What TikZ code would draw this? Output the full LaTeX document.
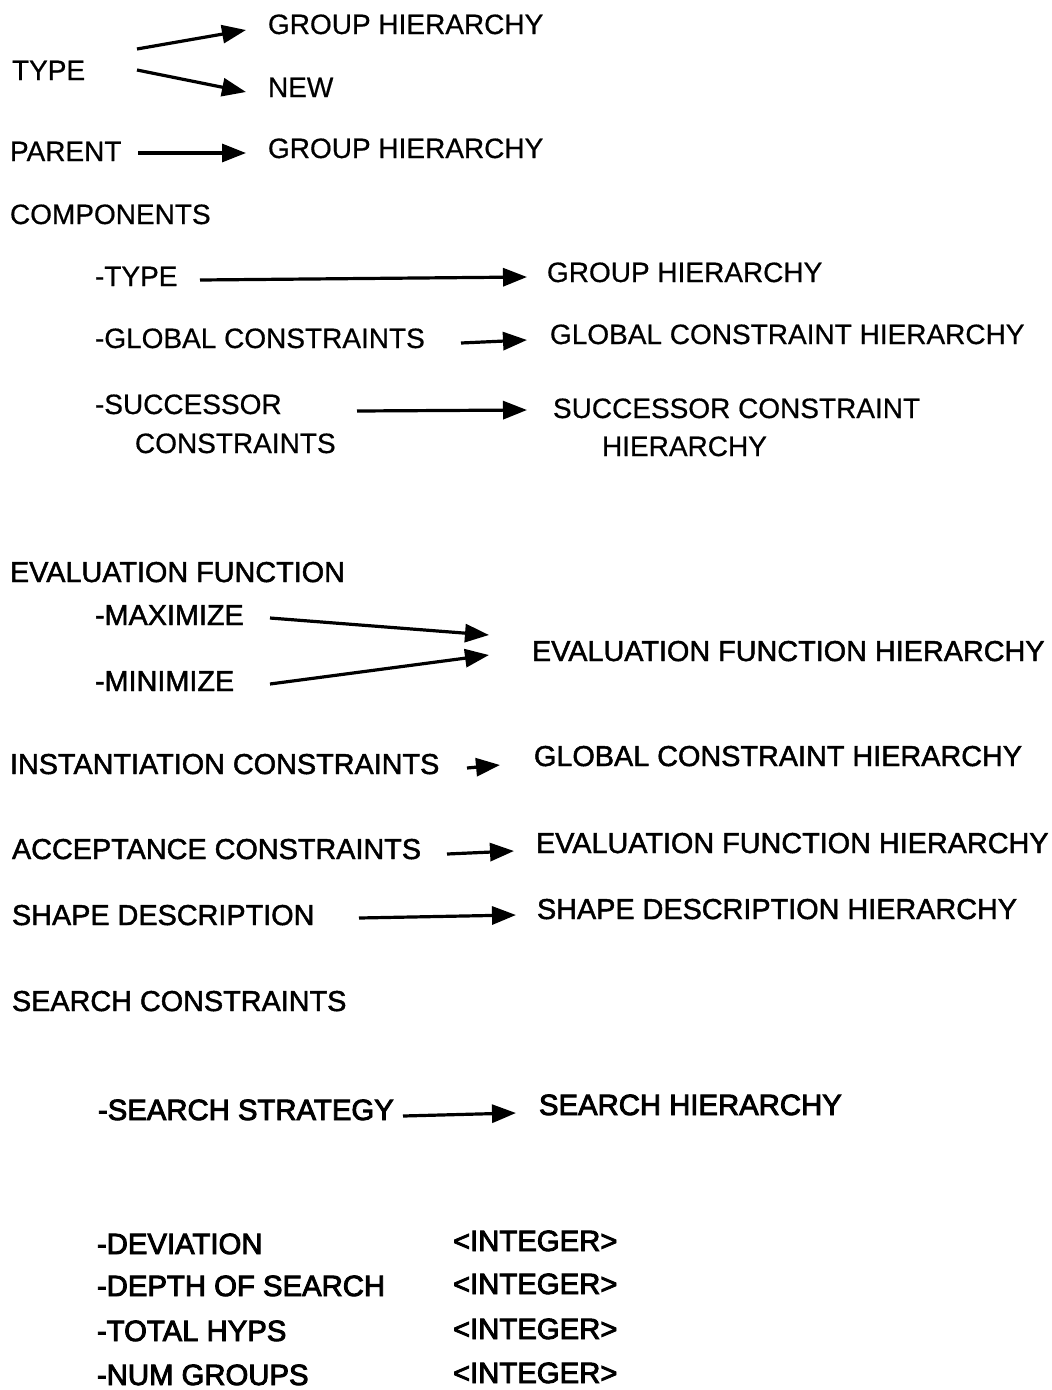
\documentclass[tikz,border=0pt]{standalone}
\usepackage{fontspec}
\setmainfont{Liberation Sans}
\usetikzlibrary{arrows.meta,calc}
\begin{document}
\begin{tikzpicture}[x=1pt,y=-1pt,
  lbl/.style={anchor=base west,inner sep=0pt,outer sep=0pt,
    text height=20pt,text depth=0pt,font=\fontsize{28}{32}\selectfont\addfontfeature{FakeBold=0.6}},
  mid/.style={lbl,font=\fontsize{28.8}{32}\selectfont\addfontfeature{FakeBold=1.6}},
  heavy/.style={lbl,font=\fontsize{29.3}{32}\selectfont\addfontfeature{FakeBold=3}},
  arr/.style={line width=3.2pt,-{Triangle[length=24pt,width=18pt]}}]
\useasboundingbox[fill=white] (0,0) rectangle (1052,1390);

% type / parent
\node[lbl] (gh1)  at (268,34)  {GROUP HIERARCHY};
\node[lbl] (type) at (12,80)   {TYPE};
\node[lbl] (new)  at (268,97)  {NEW};
\node[lbl] (parent) at (10,161) {PARENT};
\node[lbl] (gh2)  at (268,158) {GROUP HIERARCHY};

\draw[arr] ($(type.west)+(125,-21)$) -- ($(gh1.west)+(-22,6)$);
\draw[arr] ($(type.west)+(125,0)$)   -- ($(new.west)+(-22,5)$);
\draw[arr] ($(parent.west)+(128,2)$) -- ($(gh2.west)+(-22,5)$);

% components
\node[lbl] (comp)  at (10,224)  {COMPONENTS};
\node[lbl] (ctype) at (95,286)  {-TYPE};
\node[lbl] (gh3)   at (547,282) {GROUP HIERARCHY};
\node[lbl] (cglob) at (95,348)  {-GLOBAL CONSTRAINTS};
\node[lbl] (gch1)  at (550,344) {GLOBAL CONSTRAINT HIERARCHY};
\node[lbl] (csucc) at (95,414)  {-SUCCESSOR};
\node[lbl] (ccons) at (135,453) {CONSTRAINTS};
\node[lbl] (sch1)  at (553,418) {SUCCESSOR CONSTRAINT};
\node[lbl] (sch2)  at (602,456) {HIERARCHY};

\draw[arr] ($(ctype.west)+(105,4)$) -- ($(gh3.west)+(-20,5)$);
\draw[arr] ($(cglob.west)+(366,5)$) -- ($(gch1.west)+(-23,6)$);
\draw[arr] ($(csucc.west)+(262,7)$) -- ($(sch1.west)+(-26,2)$);

% evaluation function
\node[mid] (evf)  at (10,582)  {EVALUATION FUNCTION};
\node[mid] (emax) at (95,625)  {-MAXIMIZE};
\node[mid] (emin) at (95,691)  {-MINIMIZE};
\node[mid] (efh1) at (532,661) {EVALUATION FUNCTION HIERARCHY};

\draw[arr] ($(emax.west)+(175,3)$) -- ($(efh1.west)+(-43,-16)$);
\draw[arr] ($(emin.west)+(175,3)$) -- ($(efh1.west)+(-43,4)$);

% constraints and shape
\node[mid] (inst)  at (10,774)  {INSTANTIATION CONSTRAINTS};
\node[mid] (gch2)  at (534,766) {GLOBAL CONSTRAINT HIERARCHY};
\node[mid] (acc)   at (12,859)  {ACCEPTANCE CONSTRAINTS};
\node[mid] (efh2)  at (536,853) {EVALUATION FUNCTION HIERARCHY};
\node[mid] (shape) at (12,925)  {SHAPE DESCRIPTION};
\node[mid] (sdh)   at (537,919) {SHAPE DESCRIPTION HIERARCHY};

\draw[arr] ($(inst.west)+(457,4)$)  -- ($(gch2.west)+(-34,9)$);
\draw[arr] ($(acc.west)+(435,5)$)   -- ($(efh2.west)+(-22,8)$);
\draw[arr] ($(shape.west)+(347,3)$) -- ($(sdh.west)+(-21,6)$);

% search constraints
\node[mid] (sc) at (12,1011)  {SEARCH CONSTRAINTS};
\node[heavy] (ss) at (98,1120)  {-SEARCH STRATEGY};
\node[heavy] (sh) at (539,1115) {SEARCH HIERARCHY};
\draw[arr] ($(ss.west)+(305,6)$) -- ($(sh.west)+(-23,8)$);

\node[heavy] (dev)  at (97,1254)  {-DEVIATION};
\node[heavy] (int1) at (453,1251) {<INTEGER>};
\node[heavy] (dep)  at (97,1296)  {-DEPTH OF SEARCH};
\node[heavy] (int2) at (453,1294) {<INTEGER>};
\node[heavy] (tot)  at (97,1341)  {-TOTAL HYPS};
\node[heavy] (int3) at (453,1339) {<INTEGER>};
\node[heavy] (num)  at (97,1385)  {-NUM GROUPS};
\node[heavy] (int4) at (453,1383) {<INTEGER>};
\end{tikzpicture}
\end{document}
